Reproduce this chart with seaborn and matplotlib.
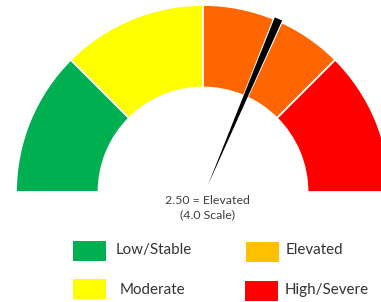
import numpy as np
import matplotlib
matplotlib.use("Agg")
import matplotlib.pyplot as plt
from matplotlib.patches import Wedge, Rectangle
import seaborn as sns

# ---- data ----
segment_starts = [0.0, 1.0, 2.0, 3.0]
segment_ends = [1.0, 2.0, 3.0, 4.0]
segment_colors = ["#00B050", "#FFFF00", "#FF6600", "#FF0000"]
scale_max = 4.0
needle_value = 2.50
reading_text = "2.50 = Elevated"
scale_text = "(4.0 Scale)"
legend_labels = ["Low/Stable", "Elevated", "Moderate", "High/Severe"]
legend_colors = ["#00B050", "#FFC000", "#FFFF00", "#FF0000"]

sns.set_theme(style="white")
plt.rcParams["font.family"] = ["Lato", "DejaVu Sans"]

W, H = 381, 302
fig = plt.figure(figsize=(W / 100, H / 100), dpi=100)
ax = fig.add_axes([0, 0, 1, 1])
ax.set_xlim(0, W)
ax.set_ylim(0, H)
ax.set_aspect("equal")
ax.axis("off")

def Y(py):
    return H - py

cx, cy = 203, Y(192)
r_out, r_in = 187, 104.5

def val2ang(v):
    return 180.0 - v / scale_max * 180.0

for s, e, c in zip(segment_starts, segment_ends, segment_colors):
    ax.add_patch(Wedge((cx, cy), r_out, val2ang(e), val2ang(s), width=r_out - r_in,
                       facecolor=c, edgecolor="white", linewidth=1.3, zorder=2))

# needle
a = np.deg2rad(val2ang(needle_value) - 0.5)
d = np.array([np.cos(a), np.sin(a)])
p = np.array([np.sin(a), -np.cos(a)])
c0 = np.array([cx + 2, cy])
def needle_poly(r0, r1, w):
    base = c0 + d * r0
    t1 = c0 + d * r1 + p * w / 2
    t2 = c0 + d * r1 - p * w / 2
    return np.array([base, t1, t2])
wp = needle_poly(2, 188, 10.5)
ax.fill(wp[:, 0], wp[:, 1], color="white", zorder=3, lw=0)
bp = needle_poly(7, 188, 8)
ax.fill(bp[:, 0], bp[:, 1], color="black", zorder=4, lw=0)

ax.text(207, Y(200), reading_text, ha="center", va="center", fontsize=8.9, color="#404040")
ax.text(208, Y(215), scale_text, ha="center", va="center", fontsize=8.9, color="#404040")

# legend
sq_x = [73, 246, 73, 245]
sq_y = [241, 242, 279, 281]
tx_x = [116, 286, 120, 285]
tx_y = [250, 250, 290, 290]
for lab, col, x0, y0, tx, ty in zip(legend_labels, legend_colors, sq_x, sq_y, tx_x, tx_y):
    ax.add_patch(Rectangle((x0, Y(y0 + 19.5)), 33, 19.5, facecolor=col, edgecolor="none", zorder=2))
    ax.text(tx, Y(ty), lab, ha="left", va="center", fontsize=10.9, color="#333333")

fig.savefig("out.png", dpi=100)
